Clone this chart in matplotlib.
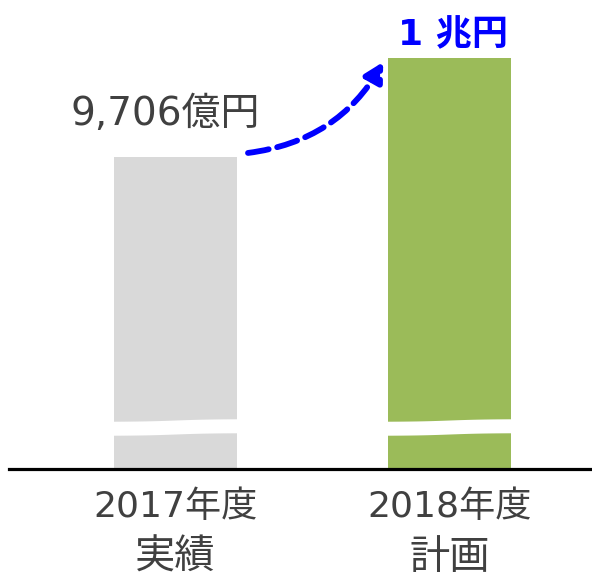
import numpy as np
import matplotlib.pyplot as plt

plt.rcParams['font.family'] = ['DejaVu Sans', 'Noto Sans CJK JP']

years = ['2017年度', '2018年度']
kinds = ['実績', '計画']
values = [9706, 10000]
value_labels = ['9,706億円', '1 兆円']
bar_colors = ['#D9D9D9', '#9BBB59']
text_color = '#404040'

base = 8779.5      # axis is broken: bars start here
top = 10172.2

fig = plt.figure(figsize=(5.92, 5.77), dpi=100)
ax = fig.add_axes([0, 108 / 577, 1, 469 / 577])
x = np.arange(len(values))
ax.bar(x, values, width=0.449, color=bar_colors)
ax.set_xlim(-0.6405, 1.520)
ax.set_ylim(base, top)
ax.axis('off')

# baseline
ax.axhline(base, xmin=9 / 592, xmax=1, color='black', lw=2.3, clip_on=False)

# white wavy break across each bar
upp = (top - base) / 469  # data units per pixel
t = np.linspace(-1, 1, 60)
wave = np.tanh(1.8 * t) * 1.3
yb = base + 42 * upp
for xi in x:
    xs = xi + t * 0.235
    ax.fill_between(xs, yb + (wave - 7) * upp, yb + (wave + 7) * upp,
                    color='white', lw=0, zorder=3)

# value labels
ax.annotate(value_labels[0], xy=(x[0], values[0]), xytext=(-10 * 0.72, 32 * 0.72),
            textcoords='offset points', ha='center', va='baseline',
            fontsize=28, color=text_color)
ax.annotate(value_labels[1], xy=(x[1], values[1]), xytext=(3.5 * 0.72, 13 * 0.72),
            textcoords='offset points', ha='center', va='baseline',
            fontsize=26, fontweight='bold', color='#0000FF')

# dashed arrow
ax.annotate('', xy=(0.758, values[1] - 12), xytext=(0.2646, values[0] + 12),
            arrowprops=dict(arrowstyle='-|>,head_length=1.1,head_width=0.6',
                            color='#0000FF', lw=4.2, linestyle=(0, (3.6, 1.5)),
                            connectionstyle='arc3,rad=0.25', shrinkA=0, shrinkB=0))

# category labels
for xi, yr, kd in zip(x, years, kinds):
    ax.text(xi, base - 48 * upp, yr, ha='center', va='baseline',
            fontsize=26, color=text_color, clip_on=False)
    ax.text(xi, base - 100 * upp, kd, ha='center', va='baseline',
            fontsize=29, color=text_color, clip_on=False)

fig.savefig('out.png', dpi=100)
